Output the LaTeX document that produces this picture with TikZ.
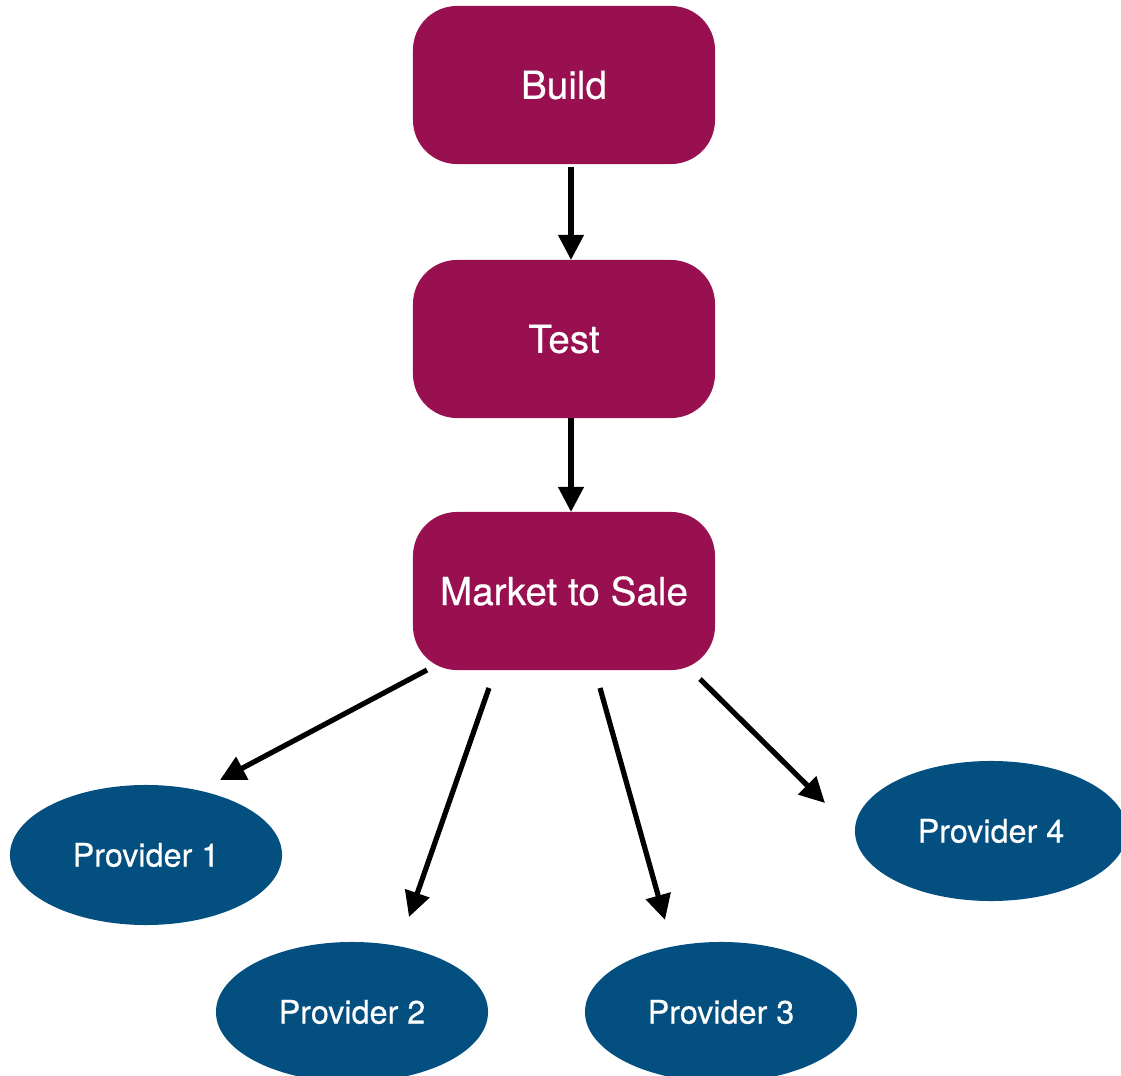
\documentclass[tikz,border=0pt]{standalone}
\usepackage{fontspec}
\setmainfont{TeX Gyre Heros}[FakeBold=0.5]
\usetikzlibrary{shapes.geometric,arrows.meta}
\definecolor{stagered}{HTML}{981050}
\definecolor{provblue}{HTML}{034F80}
\tikzset{
  stage/.style={rectangle, rounded corners=1.1cm, fill=stagered, text=white,
    minimum width=7.55cm, minimum height=3.95cm, inner sep=0pt, font=\fontsize{27.5}{30}\selectfont},
  provider/.style={ellipse, fill=provblue, text=white,
    minimum width=6.8cm, minimum height=3.5cm, inner sep=0pt, font=\fontsize{23}{26}\selectfont},
  flow/.style={line width=3.7pt, -{Triangle[length=0.63cm,width=0.62cm]}}
}
\begin{document}
\begin{tikzpicture}[x=0.025cm,y=-0.025cm]
  \useasboundingbox (0,0) rectangle (1121,1076);
  % stages
  \node[stage] (build)  at (564,85)  {Build};
  \node[stage] (test)   at (564,339) {Test};
  \node[stage] (market) at (564,591) {Market to Sale};
  %
  % providers
  \node[provider] (p1) at (146,855)  {Provider 1};
  \node[provider] (p2) at (352,1012) {Provider 2};
  \node[provider] (p3) at (721,1012) {Provider 3};
  \node[provider] (p4) at (991,831)  {Provider 4};
  %
  % arrow ends (they stop short of the shapes)
  \coordinate (b0) at (571,167); \coordinate (b1) at (571,260);
  \coordinate (t0) at (571,418); \coordinate (t1) at (571,512);
  \coordinate (m1) at (427,670); \coordinate (e1) at (220,780);
  \coordinate (m2) at (489,688); \coordinate (e2) at (409,917);
  \coordinate (m3) at (600,688); \coordinate (e3) at (665,920);
  \coordinate (m4) at (700,679); \coordinate (e4) at (825,803);
  %
  \draw[flow] (b0) -- (b1);
  \draw[flow] (t0) -- (t1);
  \draw[flow] (m1) -- (e1);
  \draw[flow] (m2) -- (e2);
  \draw[flow] (m3) -- (e3);
  \draw[flow] (m4) -- (e4);
\end{tikzpicture}
\end{document}
